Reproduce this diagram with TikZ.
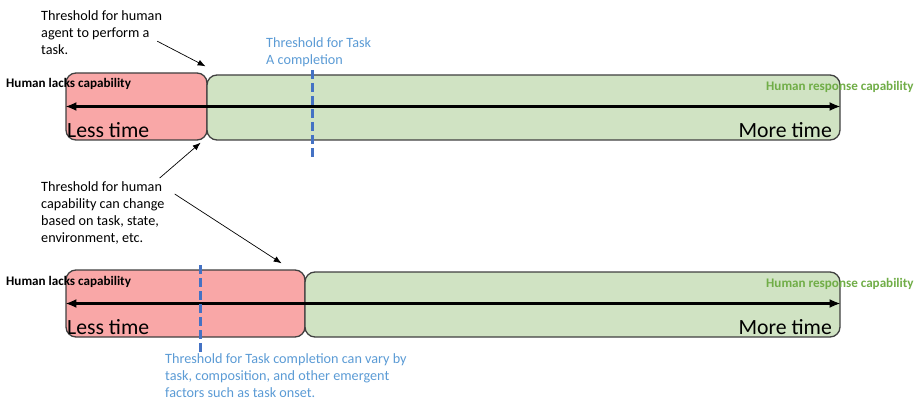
\documentclass[tikz,border=0pt]{standalone}
\usepackage{fontspec}
\setmainfont{Carlito}
\usetikzlibrary{arrows.meta, positioning}
\definecolor{lackred}{HTML}{F9A7A7}
\definecolor{respgreen}{HTML}{D0E3C3}
\definecolor{boxline}{HTML}{404040}
\definecolor{taskblue}{HTML}{4472C4}
\definecolor{noteblue}{HTML}{5B9BD5}
\definecolor{labelgreen}{HTML}{70AD47}

\begin{document}
\begin{tikzpicture}[x=1pt, y=-1pt,
  zone/.style={fill=#1, draw=boxline, line width=1.3pt, rounded corners=10pt, inner sep=0pt},
  timeline/.style={{Latex[length=11pt,width=9pt]}-{Latex[length=11pt,width=9pt]}, line width=3pt},
  taskline/.style={taskblue, line width=3pt, dash pattern=on 9pt off 4pt},
  pointer/.style={-{Latex[length=8pt,width=6pt]}, line width=0.7pt},
  note/.style={align=left, inner sep=0pt, anchor=north west, font=\fontsize{14.2}{17}\selectfont},
  caplabel/.style={inner sep=0pt, anchor=west, font=\fontsize{13.1}{15}\selectfont\bfseries},
  timelabel/.style={inner sep=0pt, font=\fontsize{21.7}{26}\selectfont}]

\useasboundingbox (0,0) rectangle (921,401);

% Upper bar
\node[zone=lackred, minimum width=141pt, minimum height=67pt] (lackA) at (136.5,106.5) {};
\node[zone=respgreen, minimum width=633pt, minimum height=65pt] (respA) at (523.5,107.5) {};
\node[timelabel, anchor=west] (lessA) at (67,130) {Less time};
\node[timelabel, anchor=east] (moreA) at (832,130) {More time};
\draw[timeline] (lackA.west) -- (lackA.west -| respA.east);
\draw[taskline] (312,70) -- (312,157);
\node[caplabel] (lackcapA) at (6,84) {Human lacks capability};
\node[caplabel, text=labelgreen] (respcapA) at (766,87) {Human response capability};

% Lower bar
\node[zone=lackred, minimum width=239pt, minimum height=67pt] (lackB) at (185.5,303.5) {};
\node[zone=respgreen, minimum width=535pt, minimum height=65pt] (respB) at (572.5,304.5) {};
\node[timelabel, anchor=west] (lessB) at (67,327) {Less time};
\node[timelabel, anchor=east] (moreB) at (832,327) {More time};
\draw[timeline] (lackB.west) -- (lackB.west -| respB.east);
\draw[taskline] (200,265) -- (200,352);
\node[caplabel] (lackcapB) at (6,282) {Human lacks capability};
\node[caplabel, text=labelgreen] (respcapB) at (766,284) {Human response capability};

% Notes
\node[note] (agentnote) at (41,10) {Threshold for human\\agent to perform a\\task.};
\node[note, text=noteblue] (tasknoteA) at (266,37) {Threshold for Task\\A completion};
\node[note] (changenote) at (41,181) {Threshold for human\\capability can change\\based on task, state,\\environment, etc.};
\node[note, text=noteblue] (tasknoteB) at (165,353) {Threshold for Task completion can vary by\\task, composition, and other emergent\\factors such as task onset.};

\draw[pointer] ([shift={(-5,9)}]agentnote.east) -- ([shift={(-2,-6)}]lackA.north east);
\draw[pointer] ([shift={(-5,-3)}]changenote.north east) -- ([shift={(-7,2)}]lackA.south east);
\draw[pointer] ([shift={(10,13)}]changenote.north east) -- ([shift={(-24,-6)}]lackB.north east);

\end{tikzpicture}
\end{document}
